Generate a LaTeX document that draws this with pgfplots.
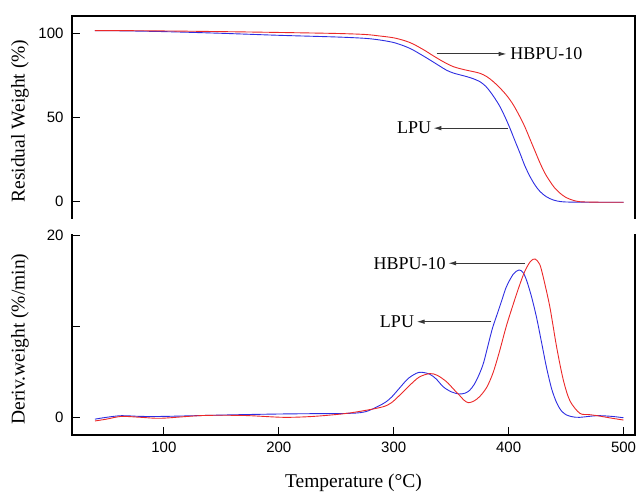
\documentclass[border=0pt]{standalone}
\usepackage{pgfplots}
\pgfplotsset{compat=1.18}
\usepackage{fontspec}
\setmainfont{Liberation Serif}
\newfontfamily\tickfont{Liberation Sans}
\usetikzlibrary{arrows.meta}
\definecolor{cred}{RGB}{235,40,40}
\definecolor{cblue}{RGB}{45,45,225}
\definecolor{arrowc}{RGB}{55,55,55}
\tikzset{
 annot/.style={font=\fontsize{18}{18}\selectfont, inner sep=1pt},
 arr/.style={arrowc, line width=1pt, -{Latex[length=8pt,width=4.5pt]}},
 myframe/.style={black, line width=1.1pt, line cap=rect, line join=miter},
}
\begin{document}
\begin{tikzpicture}
\useasboundingbox (0,0) rectangle (636pt,493pt);
\pgfplotsset{
 every axis/.append style={
  scale only axis, width=563pt, anchor=south west,
  xmin=20, xmax=510,
  axis line style={draw=none},
  tick style={black, line width=1pt},
  major tick length=8pt,
  tick align=inside,
  tick pos=left,
  ticklabel style={font=\tickfont\fontsize{15}{15}\selectfont},
  yticklabel style={xshift=-5pt},
  xticklabel style={yshift=-3pt},
  label style={font=\fontsize{19.5}{20}\selectfont},
  /pgf/number format/assume math mode=true,
  clip=false,
  ylabel style={at={(axis description cs:-0.0924,0.48)}, anchor=center},
 },
}
% ---------- TGA ----------
\begin{axis}[at={(72pt,275pt)}, height=202pt,
  ymin=-10, ymax=110.3, xtick=\empty, ytick={0,50,100},
  ylabel={Residual Weight (\%)}]
\addplot[cblue, line width=0.9pt, smooth] coordinates {
(40,101.6) (60,101.5) (100,101.0) (150,100.0) (200,98.8) (250,97.8)
(275,97.0) (288,96.0) (300,94.5) (310,92.2) (317,90.0) (327,86.0)
(333,83.5) (340,80.5) (346,78.0) (352,76.3) (358,75.2) (363.5,74.2)
(369,73.0) (375,71.2) (380,68.5) (384,65.2) (388,61.3) (392.5,56.3)
(397,50.0) (401.2,43.4) (405.5,36.0) (409.9,28.6) (414,21.3) (418.6,14.7)
(423,9.6) (427.3,5.8) (433,2.6) (439,0.7) (445,-0.2) (452,-0.5)
(470,-0.6) (500,-0.6)
};
\addplot[cred, line width=0.9pt, smooth] coordinates {
(40,101.6) (60,101.6) (100,101.4) (150,101.0) (200,100.5) (250,99.9)
(275,99.3) (287.8,98.4) (300,97.3) (310,95.5) (317,93.6) (327,89.8)
(333,87.2) (340,84.3) (346,82.0) (352,80.1) (358,78.9) (363.5,78.0)
(369,77.2) (375,76.2) (381,74.2) (386.7,71.2) (392.5,67.4) (398.3,63.0)
(404,57.5) (409.9,50.2) (414,44.5) (418.6,37.0) (423,29.8) (427.3,22.8)
(431.5,16.8) (436,11.8) (440,8.0) (444.7,4.8) (450,2.2) (456.3,0.5)
(462,-0.3) (470,-0.5) (480,-0.6) (500,-0.6)
};
\draw[myframe] (rel axis cs:0,0) -- (rel axis cs:0,1) -- (rel axis cs:1,1) -- (rel axis cs:1,0);
\draw[arr] (axis cs:337.4,87.7) -- (axis cs:398.3,87.7);
\node[annot, anchor=west] at (axis cs:400.5,87.7) {HBPU-10};
\draw[arr] (axis cs:399.5,43.5) -- (axis cs:334.5,43.5);
\node[annot, anchor=east] at (axis cs:333.5,43.5) {LPU};
\end{axis}
% ---------- DTG ----------
\begin{axis}[at={(72pt,58pt)}, height=200pt,
  ymin=-1.94, ymax=20, xtick={100,200,300,400,500},
  ytick={0,10,20}, yticklabels={0,{},20},
  xlabel={Temperature (°C)},
  xlabel style={at={(axis description cs:0.5,-0.24)}, anchor=center},
  ylabel={Deriv.weight (\%/min)}]
\addplot[cblue, line width=0.9pt, smooth] coordinates {
(40,-0.2) (50,0.0) (63,0.18) (80,0.1) (100,0.1) (134,0.2) (170,0.3)
(204,0.37) (230,0.4) (257,0.42) (275,0.6) (290.8,1.5) (298,2.2)
(305,3.2) (313,4.3) (322,4.93) (331,4.75) (337,4.2) (343,3.36)
(350,2.8) (357,2.56) (362,2.65) (366,2.95) (370,3.6) (374,4.6)
(378,5.9) (382.3,8.0) (386,9.8) (390,11.3) (394,12.8) (398,14.3)
(404,15.7) (409,16.16) (412.5,15.9) (415.7,15.0) (420,13.2) (424.4,10.9)
(429,8.0) (433.1,5.4) (437.5,3.1) (441.8,1.6) (446,0.7) (450.5,0.25)
(456,0.05) (462,0.0) (477,0.18) (490,0.1) (500,-0.05)
};
\addplot[cred, line width=0.9pt, smooth] coordinates {
(40,-0.4) (50,-0.2) (63,0.1) (80,0.0) (98,-0.1) (134,0.2) (170,0.2)
(204,0.0) (230,0.1) (257,0.4) (275,0.75) (290.8,1.16) (298,1.6)
(305,2.4) (313,3.4) (322,4.4) (331.4,4.8) (338,4.6) (346,3.9)
(352,3.1) (357,2.45) (361,1.9) (365,1.6) (370,1.8) (375,2.3)
(381,3.3) (386.5,4.9) (392,7.2) (398,10.0) (404,12.4) (409,14.3)
(414,16.0) (419,17.1) (423,17.37) (427,16.8) (430.1,15.4) (435.9,12.1)
(441.8,7.7) (447.6,4.1) (453.4,1.8) (462,0.44) (470,0.3) (477,0.18)
(490,-0.1) (500,-0.3)
};
\draw[myframe] (rel axis cs:0,1) -- (rel axis cs:0,0) -- (rel axis cs:1,0) -- (rel axis cs:1,1);
\draw[arr] (axis cs:414.1,16.9) -- (axis cs:347.4,16.9);
\node[annot, anchor=east] at (axis cs:346.2,16.9) {HBPU-10};
\draw[arr] (axis cs:385.1,10.49) -- (axis cs:319.9,10.49);
\node[annot, anchor=east] at (axis cs:318.7,10.49) {LPU};
\end{axis}
\end{tikzpicture}
\end{document}
